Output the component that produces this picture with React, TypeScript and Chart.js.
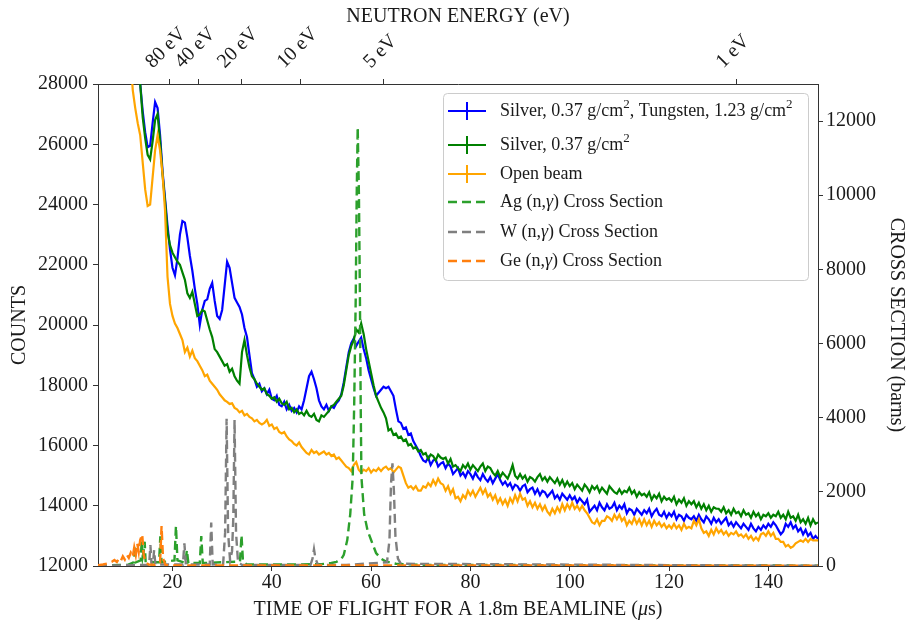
import React, { useEffect, useRef } from "react";
import { Chart, registerables } from "chart.js";

Chart.register(...registerables);

// ---- time-of-flight bin grid (µs) ----
const TOF_START = 10;
const TOF_STEP = 0.5;

// ---- counts, one value per 0.5 µs bin from 10 µs to 150 µs ----
const AG_W_COUNTS = [
  38000, 36500, 35000, 33500, 31800, 30300, 29000, 28000, 27100, 26400,
  25900, 25950, 26700, 27400, 27200, 26300, 25100, 24200, 23300, 22500,
  21900, 21650, 22200, 23000, 23450, 23400, 22900, 22300, 21800, 21200,
  20700, 20000, 20500, 20800, 20850, 21200, 21400, 20800, 20300, 20200,
  20500, 21300, 22100, 21900, 21400, 20900, 20750, 20600, 20350, 19900,
  19600, 19000, 18400, 18200, 17950, 18050, 17800, 17900, 17700, 17850,
  17550, 17500, 17650, 17350, 17300, 17450, 17200, 17350, 17150, 17250,
  17100, 17300, 17200, 17500, 17900, 18300, 18450, 18200, 17900, 17500,
  17300, 17200, 17350, 17150, 17300, 17250, 17400, 17500, 17700, 18100,
  18600, 19100, 19400, 19550, 19300, 19450, 19580, 19200, 18900, 18500,
  18200, 17900, 17650, 17750, 17850, 17950, 17900, 17950, 17800, 17650,
  17200, 16800, 16750, 16550, 16600, 16350, 16400, 16150, 16000, 15850,
  15650, 15500, 15450, 15600, 15350, 15500, 15550, 15300, 15400, 15450,
  15250, 15400, 15300, 15050, 15150, 15250, 15000, 15100, 14950, 15150,
  15050, 14900, 15100, 14950, 14850, 15050, 14900, 14800, 14950, 14750,
  14900, 15050, 14850, 14700, 14800, 14650, 14750, 14550, 14700, 14650,
  14500, 14650, 14700, 14450, 14550, 14600, 14400, 14550, 14350, 14500,
  14450, 14300, 14400, 14500, 14250, 14350, 14200, 14400, 14300, 14200,
  14350, 14200, 14300, 14100, 14250, 14150, 14050, 14200, 13800, 13900,
  14000, 13850, 14100, 13950, 13850, 14050, 13900, 13950, 14100, 13850,
  14000, 13900, 14050, 13750, 13900, 13850, 13700, 13900, 13800, 13700,
  13850, 13750, 13900, 13650, 13800, 13900, 13700, 13650, 13800, 13600,
  13750, 13650, 13800, 13550, 13700, 13650, 13500, 13700, 13600, 13550,
  13650, 13500, 13700, 13550, 13450, 13650, 13550, 13400, 13600, 13450,
  13550, 13400, 13500, 13600, 13350, 13450, 13300, 13450, 13350, 13250,
  13400, 13300, 13200, 13400, 13250, 13150, 13300, 13200, 13350, 13250,
  13400, 13300, 13450, 13350, 13200, 13050, 13150, 13400, 13300, 13450,
  13250, 13350, 13150, 13250, 13050, 13200, 13000, 13100, 12900, 13000,
  12900,
];

const AG_COUNTS = [
  38000, 36500, 35000, 33500, 31800, 30300, 29000, 28000, 26900, 26200,
  25650, 25500, 26100, 26800, 27000, 26100, 25000, 24100, 23100, 22650,
  22400, 22250, 22100, 22000, 21750, 21500, 21050, 20900, 21100, 20700,
  20300, 20350, 20500, 20450, 20150, 19850, 19600, 19200, 19100, 18950,
  18800, 18650, 18700, 18450, 18550, 18300, 18150, 18050, 19100, 19500,
  19000, 18600, 18300, 18200, 18050, 17950, 17850, 17900, 17700, 17650,
  17550, 17600, 17450, 17550, 17400, 17350, 17450, 17200, 17250, 17100,
  17200, 17050, 17100, 17000, 17150, 17000, 16950, 17050, 16850, 16800,
  17000, 16950, 17050, 17150, 17300, 17350, 17450, 17550, 17650, 18000,
  18500, 19000, 19300, 19500, 19850, 19750, 20050, 19700, 19200, 18800,
  18400, 18000, 17650, 17450, 17250, 17100, 16900, 16500, 16550, 16350,
  16400, 16250, 16300, 16150, 16200, 16000, 16050, 15900, 15950, 15800,
  15850, 15700, 15750, 15550, 15700, 15650, 15500, 15700, 15600, 15550,
  15600, 15400, 15550, 15300, 15350, 15250, 15150, 15350, 15250, 15400,
  15200, 15350, 15250, 15150, 15300, 15400, 15150, 15300, 15250, 15100,
  15000, 15150, 14950, 15100, 15000, 14900, 15100, 15350, 15000, 14900,
  15050, 14900, 15000, 14800, 14950, 14900, 14800, 14950, 15050, 14850,
  14950, 14800, 14950, 14850, 14750, 14900, 14700, 14850, 14650, 14800,
  14650, 14750, 14550, 14700, 14600, 14500, 14700, 14600, 14450, 14650,
  14550, 14650, 14450, 14600, 14500, 14400, 14650, 14550, 14450, 14400,
  14550, 14400, 14500, 14450, 14600, 14400, 14500, 14300, 14450, 14350,
  14400, 14300, 14450, 14200, 14350, 14250, 14400, 14150, 14300, 14200,
  14250, 14150, 14300, 14050, 14200, 14100, 14250, 14000, 14150, 14050,
  14150, 13950, 14100, 13900, 14050, 13850, 14000, 13800, 13950, 13900,
  13900, 13800, 13950, 13750, 13850, 13700, 13900, 13750, 13800, 13650,
  13850, 13700, 13750, 13600, 13800, 13650, 13750, 13550, 13700, 13650,
  13750, 13600, 13700, 13650, 13800, 13600, 13700, 13550, 13800, 13600,
  13650, 13500, 13700, 13450, 13550, 13400, 13600, 13350, 13550, 13400,
  13450,
];

const OPEN_BEAM_COUNTS = [
  33500, 32000, 30500, 29000, 27800, 27200, 26700, 26300, 25400, 24500,
  23950, 24000, 24900, 25800, 26300, 25800, 25000, 23800, 21600, 20700,
  20300, 20050, 19900, 19700, 19500, 19100, 19250, 18950, 19150, 18900,
  18800, 18650, 18500, 18300, 18350, 18150, 18050, 17950, 17850, 17700,
  17600, 17500, 17450, 17380, 17400, 17250, 17200, 17100, 17150, 17000,
  17050, 16950, 16900, 16800, 16850, 16750, 16700, 16750, 16850, 16650,
  16700, 16550, 16600, 16450, 16400, 16450, 16300, 16200, 16150, 16050,
  16000, 16100, 15950, 15850, 15750, 15700, 15850, 15750, 15800, 15700,
  15750, 15800, 15700, 15750, 15650, 15700, 15550, 15600, 15500, 15400,
  15300, 15250, 15150, 15350, 15450, 15200, 15100, 15200, 15150, 15250,
  15100, 15200, 15150, 15250, 15150, 15250, 15300, 15200, 15250, 15100,
  15200, 15300, 15250, 15000, 14750, 14600, 14650, 14550, 14650, 14500,
  14500, 14650, 14600, 14750, 14650, 14850, 14700, 14900, 14750, 14700,
  14500, 14650, 14400, 14550, 14250, 14300, 14150, 14350, 14250, 14500,
  14350, 14500, 14300, 14450, 14600, 14400, 14550, 14300, 14400, 14200,
  14350, 14100, 14250, 14050, 14200, 14000, 14250, 14100, 14350, 14150,
  14400, 14200, 14250, 14000, 14150, 13950, 14100, 13900, 14050, 13850,
  14000, 13800, 13700, 13900, 13750, 13950, 13800, 14050, 13850, 14050,
  13900, 14100, 13900, 14000, 13850, 14000, 13850, 13750, 13600, 13450,
  13400, 13550, 13350, 13500, 13500, 13650, 13600, 13500, 13700, 13550,
  13700, 13500, 13600, 13350, 13500, 13400, 13600, 13400, 13550, 13350,
  13550, 13350, 13500, 13300, 13500, 13350, 13450, 13300, 13400, 13250,
  13350, 13250, 13400, 13250, 13350, 13200, 13400, 13250, 13300, 13250,
  13500, 13350, 13550, 13250, 13100, 13150, 13000, 13200, 13050, 13250,
  13100, 13200, 13050, 13150, 13000, 13100, 13050, 13150, 13000, 13050,
  12950, 13050, 12900, 13000, 12850, 12950, 12850, 13050, 13100, 13000,
  13150, 13000, 13100, 12900, 12900, 12800, 12800, 12650, 12700, 12600,
  12650, 12750, 12800, 12850, 12800, 12900, 12800, 12900, 12850, 12850,
  12850,
];

// ---- (n,γ) cross sections in barns, sampled at the listed times of flight ----
const AG_XS_TOF = [
  5, 11, 12.2, 12.4, 12.6, 13.6, 13.8, 14.0, 14.2, 14.4, 14.6,
  17.3, 17.55, 17.8, 20.4, 20.7, 21.0, 22.6, 22.9, 23.2, 25.5, 25.8, 26.1,
  33.6, 33.9, 34.2, 35, 45, 50, 52, 53, 54, 54.5,
  55.2, 55.8, 56.3, 56.6, 56.9, 57.1, 57.3, 57.55, 57.75, 57.9, 58.05, 58.6, 59.3, 60,
  61, 62, 63, 65, 70, 150,
];
const AG_XS = [
  10, 30, 100, 565, 100, 150, 700, 250, 400, 655, 100,
  100, 800, 100, 150, 1080, 150, 80, 430, 80, 80, 810, 80,
  120, 835, 120, 40, 40, 50, 80, 110, 190, 300,
  700, 1400, 2400, 4400, 7200, 10000, 11830, 10000, 7200, 4400, 2400, 1400, 950, 700,
  350, 200, 120, 60, 30, 10,
];

const W_XS_TOF = [
  5, 15.3, 15.55, 15.8, 16.05, 16.3, 16.55, 22.1, 22.4, 22.7, 27.5, 27.8, 28.1,
  30.2, 30.6, 30.9, 31.2, 31.6, 32.0, 32.25, 32.5, 32.8, 33.2, 34,
  47.8, 48.2, 48.5, 48.8, 49.3, 55, 63.2, 63.7, 64.0, 64.3, 64.6, 64.9, 65.4, 66, 150,
];
const W_XS = [
  5, 30, 565, 30, 40, 430, 40, 40, 610, 40, 40, 1170, 40,
  50, 900, 3970, 900, 150, 400, 1300, 3940, 900, 100, 30,
  30, 200, 450, 200, 30, 30, 100, 700, 2200, 2770, 2000, 800, 200, 60, 5,
];

const GE_XS_TOF = [
  5, 6, 7, 7.8, 8.3, 8.8, 9.2, 9.6, 10.0, 10.4, 10.8, 11.2, 11.6, 12.0, 12.3,
  12.6, 12.9, 13.2, 13.5, 13.9, 14.2, 14.6, 15.2, 16.5, 17.5, 17.8, 18.1, 18.6, 20, 150,
];
const GE_XS = [
  20, 40, 70, 115, 160, 110, 200, 140, 260, 170, 300, 220, 360, 250, 500,
  300, 610, 380, 700, 855, 300, 100, 40, 30, 90, 1080, 200, 30, 15, 10,
];

// ---- axes ----
const X_TICKS = [20, 40, 60, 80, 100, 120, 140];
const Y_TICKS = [12000, 14000, 16000, 18000, 20000, 22000, 24000, 26000, 28000];
const Y2_TICKS = [0, 2000, 4000, 6000, 8000, 10000, 12000];
const ENERGY_TICK_LABELS = ["80 eV", "40 eV", "20 eV", "10 eV", "5 eV", "1 eV"];
const ENERGY_TICK_TOF = [19.3, 25.2, 33.8, 45.8, 62.5, 133.5];

// ---- legend ----
const SERIES_LABELS = [
  "Silver, 0.37 g/cm^2, Tungsten, 1.23 g/cm^2",
  "Silver, 0.37 g/cm^2",
  "Open beam",
  "Ag (n,_γ_) Cross Section",
  "W (n,_γ_) Cross Section",
  "Ge (n,_γ_) Cross Section",
];
const SERIES_COLORS = ["#0000ff", "#008000", "#ffa500", "#2ca02c", "#7f7f7f", "#ff7f0e"];

const FONT = "'Liberation Serif', 'Times New Roman', serif";
const TEXT = "#1a1a1a";
const AXIS = "#333333";

function grid(counts: number[]) {
  return counts.map((v, i) => ({ x: TOF_START + i * TOF_STEP, y: v }));
}
function pairs(xs: number[], ys: number[]) {
  return xs.map((x, i) => ({ x, y: ys[i] }));
}

type Run = { t: string; sup?: boolean; it?: boolean };
function parseLabel(s: string): Run[] {
  const parts = s.split(/(\^\d|_[^_]+_)/).filter((p) => p.length > 0);
  return parts.map((p) => {
    if (p.startsWith("^")) return { t: p.slice(1), sup: true };
    if (p.startsWith("_") && p.endsWith("_")) return { t: p.slice(1, -1), it: true };
    return { t: p };
  });
}
function drawRuns(ctx: CanvasRenderingContext2D, runs: Run[], x: number, y: number, size: number) {
  let cx = x;
  for (const r of runs) {
    const fs = r.sup ? Math.round(size * 0.7) : size;
    ctx.font = `${r.it ? "italic " : ""}${fs}px ${FONT}`;
    ctx.fillText(r.t, cx, r.sup ? y - size * 0.38 : y);
    cx += ctx.measureText(r.t).width;
  }
  return cx - x;
}
function measureRuns(ctx: CanvasRenderingContext2D, runs: Run[], size: number) {
  let w = 0;
  for (const r of runs) {
    const fs = r.sup ? Math.round(size * 0.7) : size;
    ctx.font = `${r.it ? "italic " : ""}${fs}px ${FONT}`;
    w += ctx.measureText(r.t).width;
  }
  return w;
}

const overlayPlugin = {
  id: "overlay",
  afterDraw(chart: any) {
    const ctx: CanvasRenderingContext2D = chart.ctx;
    const xTop = chart.scales.xTop;
    const area = chart.chartArea;
    ctx.save();

    // rotated energy tick labels on top axis
    ctx.fillStyle = TEXT;
    ctx.font = `20px ${FONT}`;
    ctx.textAlign = "center";
    ctx.textBaseline = "middle";
    ENERGY_TICK_TOF.forEach((t, i) => {
      const px = xTop.getPixelForValue(t);
      const label = ENERGY_TICK_LABELS[i];
      const w = ctx.measureText(label).width;
      const half = (w + 14) / (2 * Math.SQRT2);
      const cy = area.top - 14 - half;
      ctx.save();
      ctx.translate(px - 3, cy);
      ctx.rotate(-Math.PI / 4);
      ctx.fillText(label, 0, 0);
      ctx.restore();
    });

    // bottom axis title with italic mu
    const titleRuns: Run[] = [{ t: "TIME OF FLIGHT FOR A 1.8m BEAMLINE (" }, { t: "μ", it: true }, { t: "s)" }];
    ctx.textAlign = "left";
    ctx.textBaseline = "middle";
    const tw = measureRuns(ctx, titleRuns, 20);
    drawRuns(ctx, titleRuns, (area.left + area.right) / 2 - tw / 2, chart.height - 12, 20);

    // legend
    const lx = 443, ly = 93, lw = 365, lh = 187;
    ctx.beginPath();
    ctx.roundRect(lx + 0.5, ly + 0.5, lw, lh, 4);
    ctx.fillStyle = "rgba(255,255,255,0.85)";
    ctx.fill();
    ctx.strokeStyle = "#cccccc";
    ctx.lineWidth = 1;
    ctx.stroke();
    const rowY = [111, 145, 174, 202, 232, 261];
    SERIES_LABELS.forEach((lab, i) => {
      const y = rowY[i];
      const color = SERIES_COLORS[i];
      ctx.strokeStyle = color;
      if (i < 3) {
        ctx.lineWidth = 2;
        ctx.setLineDash([]);
        ctx.beginPath();
        ctx.moveTo(448, y);
        ctx.lineTo(486, y);
        ctx.moveTo(467, y - 9);
        ctx.lineTo(467, y + 9);
        ctx.stroke();
      } else {
        ctx.lineWidth = 2.4;
        ctx.setLineDash([9, 5]);
        ctx.beginPath();
        ctx.moveTo(448, y);
        ctx.lineTo(486, y);
        ctx.stroke();
        ctx.setLineDash([]);
      }
      ctx.fillStyle = TEXT;
      ctx.textAlign = "left";
      ctx.textBaseline = "middle";
      drawRuns(ctx, parseLabel(lab), 500, y, 18);
    });
    ctx.restore();
  },
};

export default function App() {
  const ref = useRef<HTMLCanvasElement | null>(null);

  useEffect(() => {
    document.body.style.margin = "0";
    const canvas = ref.current;
    if (!canvas) return;
    const tickFont = { family: FONT, size: 20 };
    const gridOpts = { drawOnChartArea: false, tickLength: 5, color: AXIS, lineWidth: 1 };
    const borderOpts = { display: true, color: AXIS, width: 1 };
    const xsStyle = { borderWidth: 2.4, borderDash: [9, 5], pointRadius: 0 };
    const cntStyle = { borderWidth: 2.2, pointRadius: 0 };

    const chart = new Chart(canvas, {
      type: "line",
      data: {
        datasets: [
          { label: "Ge", data: pairs(GE_XS_TOF, GE_XS), yAxisID: "y2", xAxisID: "x", borderColor: SERIES_COLORS[5], ...xsStyle, order: 1 },
          { label: "W", data: pairs(W_XS_TOF, W_XS), yAxisID: "y2", xAxisID: "x", borderColor: SERIES_COLORS[4], ...xsStyle, order: 2 },
          { label: "Ag", data: pairs(AG_XS_TOF, AG_XS), yAxisID: "y2", xAxisID: "x", borderColor: SERIES_COLORS[3], ...xsStyle, order: 3 },
          { label: "Open", data: grid(OPEN_BEAM_COUNTS), yAxisID: "y", xAxisID: "x", borderColor: SERIES_COLORS[2], ...cntStyle, order: 4 },
          { label: "Silver", data: grid(AG_COUNTS), yAxisID: "y", xAxisID: "x", borderColor: SERIES_COLORS[1], ...cntStyle, order: 5 },
          { label: "SilverW", data: grid(AG_W_COUNTS), yAxisID: "y", xAxisID: "x", borderColor: SERIES_COLORS[0], ...cntStyle, order: 6 },
        ],
      },
      options: {
        responsive: false,
        animation: false,
        devicePixelRatio: 1,
        layout: { padding: 0 },
        plugins: { legend: { display: false }, tooltip: { enabled: false } },
        elements: { line: { tension: 0 } },
        scales: {
          x: {
            type: "linear",
            position: "bottom",
            min: 5,
            max: 150,
            afterBuildTicks: (s: any) => { s.ticks = X_TICKS.map((v) => ({ value: v })); },
            afterFit: (s: any) => { s.height = 56; },
            ticks: { font: tickFont, color: TEXT, padding: 0, maxRotation: 0, autoSkip: false, callback: (v: any) => String(v) },
            grid: gridOpts,
            border: borderOpts,
          },
          xTop: {
            type: "linear",
            position: "top",
            min: 5,
            max: 150,
            afterBuildTicks: (s: any) => { s.ticks = ENERGY_TICK_TOF.map((v) => ({ value: v })); },
            afterFit: (s: any) => { s.height = 84; },
            ticks: { display: false },
            grid: gridOpts,
            border: borderOpts,
            title: { display: true, text: "NEUTRON ENERGY (eV)", font: { family: FONT, size: 20 }, color: TEXT, padding: { top: 5, bottom: 0 } },
          },
          y: {
            type: "linear",
            position: "left",
            min: 12000,
            max: 28000,
            afterBuildTicks: (s: any) => { s.ticks = Y_TICKS.map((v) => ({ value: v })); },
            afterFit: (s: any) => { s.width = 98; },
            ticks: { font: tickFont, color: TEXT, padding: 5, callback: (v: any) => String(v) },
            grid: gridOpts,
            border: borderOpts,
            title: { display: true, text: "COUNTS", font: { family: FONT, size: 20 }, color: TEXT, padding: { top: 8, bottom: 0 } },
          },
          y2: {
            type: "linear",
            position: "right",
            min: 0,
            max: 13000,
            afterBuildTicks: (s: any) => { s.ticks = Y2_TICKS.map((v) => ({ value: v })); },
            afterFit: (s: any) => { s.width = 88; },
            ticks: { font: tickFont, color: TEXT, padding: 3, callback: (v: any) => String(v) },
            grid: gridOpts,
            border: borderOpts,
            title: { display: true, text: "CROSS SECTION (barns)", font: { family: FONT, size: 20, lineHeight: 1 }, color: TEXT, padding: { top: 0, bottom: 0 } },
          },
        },
      },
      plugins: [overlayPlugin],
    } as any);
    return () => chart.destroy();
  }, []);

  return <canvas ref={ref} width={906} height={622} style={{ display: "block", width: 906, height: 622 }} />;
}
